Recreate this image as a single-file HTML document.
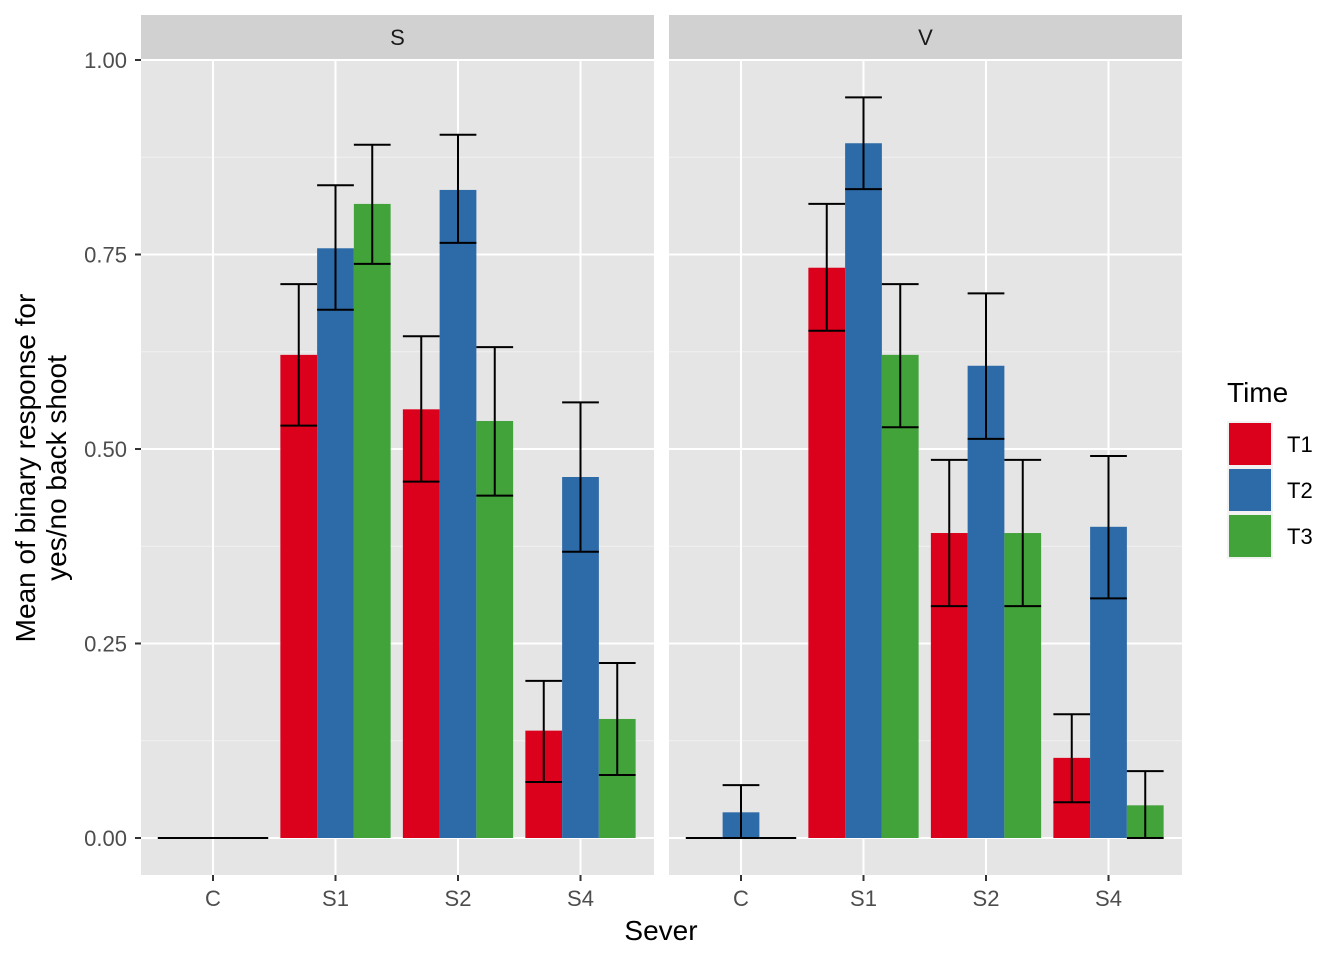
<!DOCTYPE html>
<html><head><meta charset="utf-8"><style>body{margin:0;background:#fff}svg{display:block;font-family:"Liberation Sans",Arial,sans-serif}</style></head>
<body>
<svg id="c" width="1344" height="960"></svg>
<script>
const panels=["S","V"];
const categories=["C","S1","S2","S4"];
const series=["T1","T2","T3"];
const colors=["#DB001B","#2D6AA8","#42A33A"];
const meanS_T1=[0,0.621,0.551,0.138], meanS_T2=[0,0.758,0.833,0.464], meanS_T3=[0,0.815,0.536,0.153];
const loS_T1=[0,0.530,0.458,0.072], loS_T2=[0,0.679,0.765,0.368], loS_T3=[0,0.738,0.440,0.081];
const hiS_T1=[0,0.712,0.645,0.202], hiS_T2=[0,0.839,0.904,0.560], hiS_T3=[0,0.891,0.631,0.225];
const meanV_T1=[0,0.733,0.392,0.103], meanV_T2=[0.033,0.893,0.607,0.400], meanV_T3=[0,0.621,0.392,0.042];
const loV_T1=[0,0.652,0.298,0.046], loV_T2=[0,0.834,0.513,0.308], loV_T3=[0,0.528,0.298,0];
const hiV_T1=[0,0.815,0.486,0.159], hiV_T2=[0.068,0.952,0.700,0.491], hiV_T3=[0,0.712,0.486,0.086];
const yTicks=[0,0.25,0.5,0.75,1];
const yTickLabels=["0.00","0.25","0.50","0.75","1.00"];
const means=[[meanS_T1,meanS_T2,meanS_T3],[meanV_T1,meanV_T2,meanV_T3]];
const los=[[loS_T1,loS_T2,loS_T3],[loV_T1,loV_T2,loV_T3]];
const his=[[hiS_T1,hiS_T2,hiS_T3],[hiV_T1,hiV_T2,hiV_T3]];

const svg=document.getElementById('c');const NS="http://www.w3.org/2000/svg";
function el(t,a,p){const e=document.createElementNS(NS,t);for(const k in a)e.setAttribute(k,a[k]);(p||svg).appendChild(e);return e;}
const plotTop=60,plotBot=875,yZero=838,yOne=60;
const y=v=>yZero-(yZero-yOne)*v;
const panelX=[141,669],pw=513,step=122.5;
const x=(p,i)=>panelX[p]+72+step*i;
const bw=step*0.9/3;
panels.forEach((pn,p)=>{
  const g=el('g',{});
  
  
  const px=panelX[p];
  el('rect',{x:px,y:plotTop,width:pw,height:plotBot-plotTop,fill:'#E5E5E5'},g);
  for(let k=0;k<4;k++){const v=yTicks[k]+0.125;el('line',{x1:px,x2:px+pw,y1:y(v),y2:y(v),stroke:'#F2F2F2','stroke-width':1},g);}
  yTicks.forEach(v=>el('line',{x1:px,x2:px+pw,y1:y(v),y2:y(v),stroke:'#fff','stroke-width':2},g));
  categories.forEach((c,i)=>el('line',{x1:x(p,i),x2:x(p,i),y1:plotTop,y2:plotBot,stroke:'#fff','stroke-width':2},g));
  const st=el('rect',{x:px,y:15,width:pw,height:44,fill:'#D1D1D1'},g);
  
  
  const t=el('text',{x:px+pw/2,y:45,'text-anchor':'middle','font-size':22,fill:'#1A1A1A'},g);t.textContent=pn;
  series.forEach((s,j)=>{
    categories.forEach((c,i)=>{
      const cx=x(p,i)+(j-1)*bw,m=means[p][j][i];
      const r=el('rect',{x:cx-bw/2,y:y(m),width:bw,height:y(0)-y(m),fill:colors[j]},g);
      
      
      const eb=el('g',{stroke:'#000','stroke-width':2,fill:'none'},g);
      
      
      const lo=y(los[p][j][i]),hi=y(his[p][j][i]);
      el('line',{x1:cx,x2:cx,y1:lo,y2:hi},eb);
      el('line',{x1:cx-bw/2,x2:cx+bw/2,y1:lo,y2:lo},eb);
      el('line',{x1:cx-bw/2,x2:cx+bw/2,y1:hi,y2:hi},eb);
    });
  });
  categories.forEach((c,i)=>{
    el('line',{x1:x(p,i),x2:x(p,i),y1:plotBot,y2:plotBot+6,stroke:'#333','stroke-width':2});
    const tl=el('text',{x:x(p,i),y:906,'text-anchor':'middle','font-size':22,fill:'#4D4D4D'});tl.textContent=c;
    
    
  });
});
yTicks.forEach((v,k)=>{
  el('line',{x1:135,x2:141,y1:y(v),y2:y(v),stroke:'#333','stroke-width':2});
  const t=el('text',{x:127,y:y(v)+8,'text-anchor':'end','font-size':22,fill:'#4D4D4D'});t.textContent=yTickLabels[k];
  
  
});
const xt=el('text',{x:661,y:940,'text-anchor':'middle','font-size':28,fill:'#000'});xt.textContent='Sever';


const yt=el('text',{transform:'translate(35,468) rotate(-90)','text-anchor':'middle','font-size':28,fill:'#000'});


const a=el('tspan',{x:0,dy:0},yt);a.textContent='Mean of binary response for';
const b=el('tspan',{x:0,dy:31},yt);b.textContent='yes/no back shoot';
const lg=el('g',{});


const lt=el('text',{x:1227,y:402,'font-size':28,fill:'#000'},lg);lt.textContent='Time';
series.forEach((s,j)=>{
  const ey=421+j*46;
  const e=el('g',{},lg);
  
  
  el('rect',{x:1227,y:ey,width:46,height:46,fill:'#F2F2F2'},e);
  el('rect',{x:1229,y:ey+2,width:42,height:42,fill:colors[j]},e);
  const t=el('text',{x:1287,y:ey+31,'font-size':22,fill:'#000'},e);t.textContent=s;
});
</script>
</body></html>
